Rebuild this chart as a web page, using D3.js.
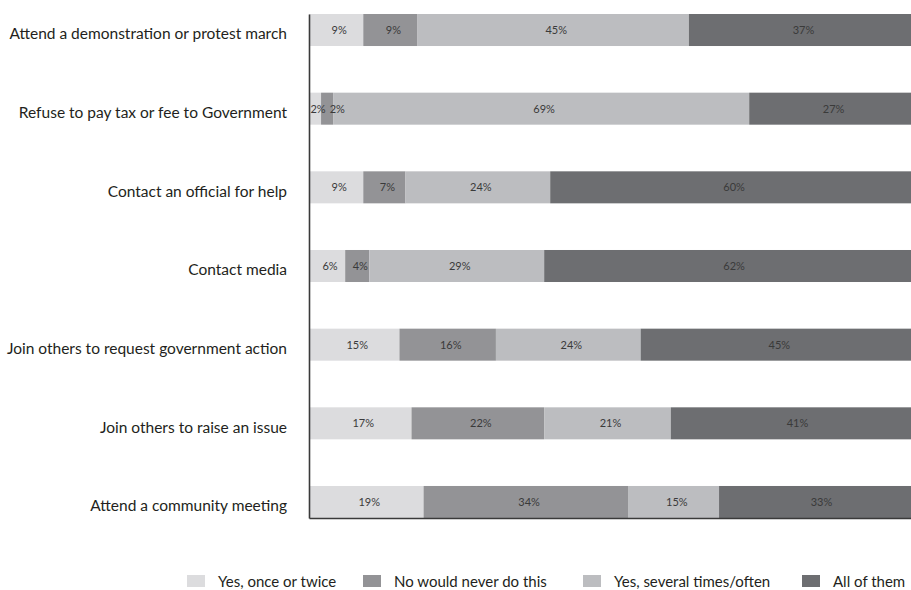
<!DOCTYPE html>
<html>
<head>
<meta charset="utf-8">
<script src="https://cdn.jsdelivr.net/npm/d3@7"></script>
<style>
  html, body { margin: 0; padding: 0; background: #fff; overflow: hidden; }
  svg { display: block; }
  text { font-family: Lato, "Open Sans", sans-serif; }
</style>
</head>
<body>
<svg id="chart" width="911" height="590"></svg>
<script>
// Activities, listed top to bottom
const categories = [
  "Attend a demonstration or protest march",
  "Refuse to pay tax or fee to Government",
  "Contact an official for help",
  "Contact media",
  "Join others to request government action",
  "Join others to raise an issue",
  "Attend a community meeting"
];

// Response groups (stack order, left to right)
const seriesNames = [
  "Yes, once or twice",
  "No would never do this",
  "Yes, several times/often",
  "All of them"
];

// Percentages per activity, one array per response group
const onceOrTwice  = [9, 2, 9, 6, 15, 17, 19];
const neverDoThis  = [9, 2, 7, 4, 16, 22, 34];
const severalTimes = [45, 69, 24, 29, 24, 21, 15];
const allOfThem    = [37, 27, 60, 62, 45, 41, 33];

const seriesValues = [onceOrTwice, neverDoThis, severalTimes, allOfThem];
const seriesColors = ["#dcdcde", "#939396", "#bcbdc0", "#6d6e71"];

// Rows for the stack layout
const rows = categories.map((c, i) => {
  const row = { category: c };
  seriesNames.forEach((s, k) => { row[s] = seriesValues[k][i]; });
  return row;
});

const svg = d3.select("#chart");
const plotLeft = 309, plotTop = 14, plotBottom = 518;

const x = d3.scaleLinear().domain([0, 100]).range([plotLeft, 912]);
const y = d3.scaleBand()
  .domain(categories)
  .range([plotTop, plotBottom])
  .paddingInner(0.593)
  .paddingOuter(0);

const color = d3.scaleOrdinal().domain(seriesNames).range(seriesColors);

const stacked = d3.stack().keys(seriesNames)(rows);

// Bars
const layers = svg.append("g")
  .selectAll("g")
  .data(stacked)
  .join("g")
  .attr("fill", d => color(d.key));

layers.selectAll("rect")
  .data(d => d)
  .join("rect")
  .attr("x", d => x(d[0]))
  .attr("y", d => y(d.data.category))
  .attr("width", d => x(d[1]) - x(d[0]))
  .attr("height", y.bandwidth());

// Value labels inside the segments; one group per row so that
// labels of narrow segments can be pushed apart left to right
const labelRows = svg.append("g")
  .selectAll("g")
  .data(categories.map((c, i) => stacked.map(layer => layer[i])))
  .join("g");

labelRows.each(function(segments) {
  let prevRight = -Infinity;
  segments.forEach(seg => {
    const t = d3.select(this).append("text")
      .attr("y", y(seg.data.category) + y.bandwidth() / 2)
      .attr("dy", "0.36em")
      .attr("font-size", 11)
      .attr("fill", "#3a3a3a")
      .text((seg[1] - seg[0]) + "%");
    const w = t.node().getComputedTextLength();
    const centre = (x(seg[0]) + x(seg[1])) / 2 + 3;
    const left = Math.max(centre - w / 2, prevRight + 4);
    t.attr("x", left);
    prevRight = left + w;
  });
});

// Category axis
const yAxis = svg.append("g")
  .attr("transform", `translate(${plotLeft},0)`)
  .call(d3.axisLeft(y).tickSize(0).tickPadding(22));

yAxis.select(".domain")
  .attr("stroke", "#3a3a3a")
  .attr("stroke-width", 1.6);

yAxis.selectAll(".tick text")
  .attr("font-size", 15.5)
  .attr("font-family", "Lato, sans-serif")
  .attr("fill", "#231f20")
  .attr("dy", "0.6em");

// Baseline under the last row
const xAxis = svg.append("g")
  .attr("transform", `translate(0,${plotBottom})`)
  .call(d3.axisBottom(x).ticks(0).tickSize(0).tickSizeOuter(0));

xAxis.select(".domain")
  .attr("stroke", "#3a3a3a")
  .attr("stroke-width", 1.6);
xAxis.selectAll(".tick").remove();

// Legend
const legendX = [187, 363, 583, 802];
const legend = svg.append("g")
  .selectAll("g")
  .data(seriesNames)
  .join("g")
  .attr("transform", (d, i) => `translate(${legendX[i]},575)`);

legend.append("rect")
  .attr("width", 18)
  .attr("height", 12)
  .attr("fill", d => color(d));

legend.append("text")
  .attr("x", 31)
  .attr("y", 12)
  .attr("font-size", 15)
  .attr("fill", "#231f20")
  .text(d => d);
</script>
</body>
</html>
